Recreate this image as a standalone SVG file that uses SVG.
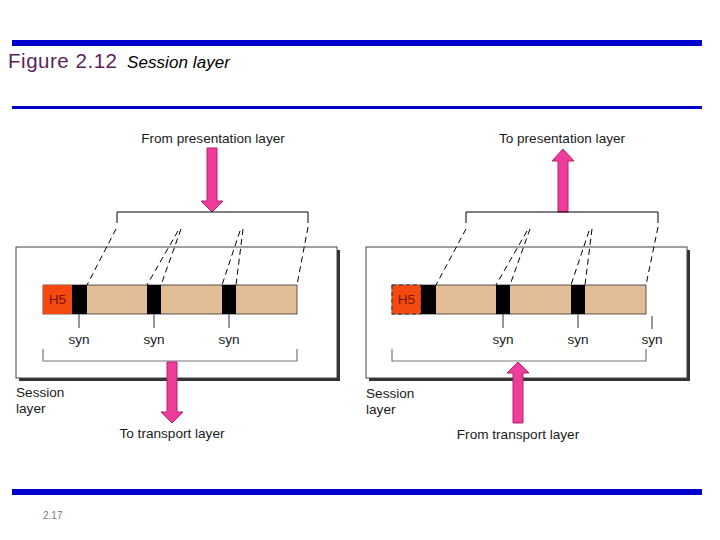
<svg xmlns="http://www.w3.org/2000/svg" width="720" height="540" viewBox="0 0 720 540">
<style>
.t{font-family:"Liberation Sans","Open Sans",Arial,sans-serif;font-size:13.6px;fill:#1a1a1a}
.c{text-anchor:middle}
.box{fill:#fff;stroke:#444;stroke-width:1}
.shadow{fill:#333}
.bar{fill:#e3bd96;stroke:#333;stroke-width:0.8}
.syn{fill:#000}
.h5{fill:#f44a12}
.h5t{font-family:"Liberation Sans","Open Sans",Arial,sans-serif;font-size:13.6px;fill:#7a1500}
.dash{stroke:#000;stroke-width:1;stroke-dasharray:6,4;fill:none}
.br{stroke:#000;stroke-width:1;fill:none}
.brg{stroke:#777;stroke-width:1.2;fill:none}
.tick{stroke:#333;stroke-width:1}
.arr{fill:#ee3d9a;stroke:#b3226e;stroke-width:1}
.rule{fill:#0000cc}
</style>
<rect class="rule" x="12" y="40" width="690" height="6"/>
<rect class="rule" x="12" y="106" width="690" height="3"/>
<rect class="rule" x="12" y="489" width="690" height="6"/>
<text x="8" y="68" textLength="109" style="font-family:'Liberation Sans',Arial,sans-serif;font-size:20.5px;fill:#5c1f5c">Figure 2.12</text>
<text x="127" y="68" textLength="103" style="font-family:'Liberation Sans',Arial,sans-serif;font-size:17px;font-style:italic;fill:#000">Session layer</text>
<text x="43" y="519" style="font-family:'Liberation Sans',Arial,sans-serif;font-size:10px;fill:#777">2.17</text>

<g id="left-panel">
<rect class="shadow" x="19" y="250" width="321" height="131"/>
<rect class="box" x="16" y="247" width="321" height="131"/>
<rect class="bar" x="43" y="285" width="254" height="29"/>
<rect class="h5" x="43" y="285" width="29" height="29"/>
<text class="h5t" x="57.5" y="304" text-anchor="middle">H5</text>
<rect class="syn" x="72" y="285" width="15" height="29"/>
<rect class="syn" x="147" y="285" width="14" height="29"/>
<rect class="syn" x="222" y="285" width="14" height="29"/>
<line class="tick" x1="79" y1="314" x2="79" y2="328"/>
<line class="tick" x1="154" y1="314" x2="154" y2="328"/>
<line class="tick" x1="229" y1="314" x2="229" y2="328"/>
<text class="t c" x="79" y="344">syn</text>
<text class="t c" x="154" y="344">syn</text>
<text class="t c" x="229" y="344">syn</text>
<path class="brg" d="M43,349 V361 H297 V349"/>
<text class="t" x="16" y="397">Session</text>
<text class="t" x="16" y="413">layer</text>
</g>
<g id="left-top">
<text class="t c" x="213" y="143">From presentation layer</text>
<path class="arr" d="M207,148 H217 V201 H223 L212,212 L201,201 H207 Z"/>
<path class="br" d="M117,223 V212 H308 V223"/>
</g>
<g id="left-bottom">
<path class="arr" d="M167,362 H177 V412 H183 L172,423 L161,412 H167 Z"/>
<text class="t c" x="172" y="438">To transport layer</text>
</g>

<g id="right-panel">
<rect class="shadow" x="369" y="250" width="321" height="131"/>
<rect class="box" x="366" y="247" width="321" height="131"/>
<rect class="bar" x="392" y="285" width="254" height="29"/>
<rect class="h5" x="392" y="285" width="29" height="29" style="stroke:#333;stroke-width:1;stroke-dasharray:4,3"/>
<text class="h5t" x="406.5" y="304" text-anchor="middle">H5</text>
<rect class="syn" x="421" y="285" width="15" height="29"/>
<rect class="syn" x="496" y="285" width="14" height="29"/>
<rect class="syn" x="571" y="285" width="14" height="29"/>
<line class="tick" x1="503" y1="314" x2="503" y2="328"/>
<line class="tick" x1="578" y1="314" x2="578" y2="328"/>
<line class="tick" x1="652" y1="316" x2="652" y2="329"/>
<text class="t c" x="503" y="344">syn</text>
<text class="t c" x="578" y="344">syn</text>
<text class="t c" x="652" y="344">syn</text>
<path class="brg" d="M392,349 V361 H646 V349"/>
<text class="t" x="366" y="398">Session</text>
<text class="t" x="366" y="414">layer</text>
</g>
<g id="right-top">
<text class="t c" x="562" y="143">To presentation layer</text>
<path class="arr" d="M563,149 L574,161 H568 V212 H558 V161 H552 Z"/>
<path class="br" d="M466,223 V212 H658 V223"/>
</g>
<g id="right-bottom">
<path class="arr" d="M518,362 L529,373 H523 V423 H513 V373 H507 Z"/>
<text class="t c" x="518" y="439">From transport layer</text>
</g>

<g id="connectors">
<line class="dash" x1="116" y1="229" x2="87" y2="285"/>
<line class="dash" x1="178" y1="231" x2="147" y2="285"/>
<line class="dash" x1="181" y1="229" x2="161" y2="285"/>
<line class="dash" x1="240" y1="231" x2="222" y2="285"/>
<line class="dash" x1="243" y1="229" x2="236" y2="285"/>
<line class="dash" x1="308" y1="227" x2="297" y2="285"/>
<line class="dash" x1="466" y1="229" x2="436" y2="285"/>
<line class="dash" x1="527" y1="231" x2="496" y2="285"/>
<line class="dash" x1="530" y1="229" x2="510" y2="285"/>
<line class="dash" x1="589" y1="231" x2="571" y2="285"/>
<line class="dash" x1="592" y1="229" x2="585" y2="285"/>
<line class="dash" x1="658" y1="227" x2="646" y2="285"/>
</g>
</svg>
